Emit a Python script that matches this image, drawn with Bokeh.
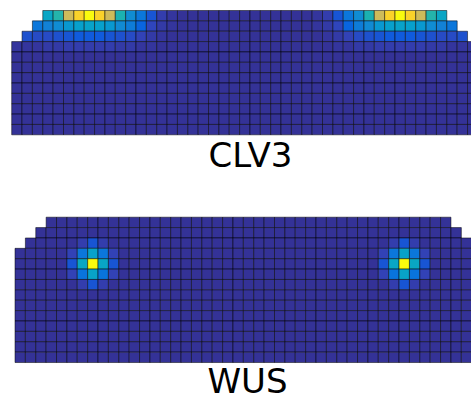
import numpy as np
from bokeh.plotting import figure
from bokeh.layouts import column
from bokeh.models import ColumnDataSource, Range1d, LinearColorMapper
from bokeh.core.properties import value
from bokeh.embed import file_html
from bokeh.resources import INLINE

# ---------------------------------------------------------------------------
# Tissue layout: 45 cell columns, L1 layer on top, dome-shaped shoulders
# ---------------------------------------------------------------------------
N_COLS = 45

# CLV3 field: 12 cell rows
clv3_first_col = [3, 2, 1] + [0] * 9
clv3_last_col = [41, 42, 43] + [44] * 9
clv3_background = 0.02
clv3_row0 = [0.38, 0.47, 0.74, 0.90, 1.00, 0.90, 0.74, 0.45, 0.28, 0.20, 0.10, 0.05, 0.03,
             0.02, 0.02, 0.02, 0.02, 0.02, 0.02, 0.02, 0.02, 0.02, 0.02, 0.02, 0.02, 0.02,
             0.03, 0.05, 0.10, 0.20, 0.28, 0.45, 0.74, 0.90, 1.00, 0.90, 0.74, 0.47, 0.38]
clv3_row1 = [0.20, 0.24, 0.28, 0.32, 0.35, 0.36, 0.35, 0.32, 0.27, 0.22, 0.14, 0.07, 0.04, 0.03,
             0.02, 0.02, 0.02, 0.02, 0.02, 0.02, 0.02, 0.02, 0.02, 0.02, 0.02, 0.02, 0.02,
             0.03, 0.04, 0.07, 0.14, 0.22, 0.27, 0.32, 0.35, 0.36, 0.35, 0.32, 0.28, 0.24, 0.20]
clv3_row2 = [0.09, 0.08, 0.08, 0.09, 0.10, 0.11, 0.11, 0.11, 0.10, 0.09, 0.08, 0.06, 0.04, 0.03, 0.02,
             0.02, 0.02, 0.02, 0.02, 0.02, 0.02, 0.02, 0.02, 0.02, 0.02, 0.02, 0.02, 0.02,
             0.02, 0.03, 0.04, 0.06, 0.08, 0.09, 0.10, 0.11, 0.11, 0.11, 0.10, 0.09, 0.08, 0.08, 0.09]
clv3_row3 = [0.03, 0.03, 0.03, 0.04, 0.04, 0.05, 0.05, 0.05, 0.05, 0.05, 0.04, 0.04, 0.03, 0.03, 0.02,
             0.02, 0.02, 0.02, 0.02, 0.02, 0.02, 0.02, 0.02, 0.02, 0.02, 0.02, 0.02, 0.02, 0.02, 0.02,
             0.02, 0.03, 0.03, 0.04, 0.04, 0.05, 0.05, 0.05, 0.05, 0.05, 0.04, 0.04, 0.03, 0.03, 0.03]
clv3_profiles = {0: clv3_row0, 1: clv3_row1, 2: clv3_row2, 3: clv3_row3}

# WUS field: 14 cell rows, two organising-centre foci
wus_first_col = [3, 2, 1] + [0] * 11
wus_last_col = [41, 42, 43] + [44] * 11
wus_background = 0.02
# (row, column, level)
wus_spots = [
    (4, 7, 1.00), (3, 7, 0.36), (5, 7, 0.37), (4, 6, 0.39), (4, 8, 0.38),
    (3, 6, 0.20), (3, 8, 0.20), (5, 6, 0.19), (5, 8, 0.19),
    (2, 7, 0.10), (6, 7, 0.10), (4, 5, 0.10), (4, 9, 0.10),
    (2, 6, 0.05), (2, 8, 0.05), (6, 6, 0.05), (6, 8, 0.05),
    (3, 5, 0.06), (3, 9, 0.06), (5, 5, 0.06), (5, 9, 0.06),
    (4, 37, 1.00), (3, 37, 0.36), (5, 37, 0.37), (4, 36, 0.38), (4, 38, 0.39),
    (3, 36, 0.20), (3, 38, 0.20), (5, 36, 0.19), (5, 38, 0.19),
    (2, 37, 0.10), (6, 37, 0.10), (4, 35, 0.10), (4, 39, 0.10),
    (2, 36, 0.05), (2, 38, 0.05), (6, 36, 0.05), (6, 38, 0.05),
    (3, 35, 0.06), (3, 39, 0.06), (5, 35, 0.06), (5, 39, 0.06),
]

# ---------------------------------------------------------------------------
# Parula-like palette
# ---------------------------------------------------------------------------
parula_anchors = [
    (0.000, (0.2081, 0.1663, 0.5292)),
    (0.063, (0.1959, 0.2645, 0.7279)),
    (0.111, (0.0591, 0.3598, 0.8683)),
    (0.159, (0.0165, 0.4266, 0.8786)),
    (0.254, (0.0793, 0.5200, 0.8312)),
    (0.333, (0.0265, 0.6137, 0.8135)),
    (0.413, (0.0384, 0.6743, 0.7436)),
    (0.492, (0.1801, 0.7177, 0.6424)),
    (0.571, (0.3953, 0.7459, 0.5244)),
    (0.651, (0.6099, 0.7473, 0.4337)),
    (0.730, (0.7858, 0.7356, 0.3633)),
    (0.810, (0.9450, 0.7261, 0.2886)),
    (0.857, (0.9990, 0.7653, 0.2164)),
    (0.905, (0.9789, 0.8271, 0.1633)),
    (0.952, (0.9589, 0.8949, 0.1132)),
    (1.000, (0.9763, 0.9831, 0.0538)),
]
_pos = np.array([a[0] for a in parula_anchors])
_rgb = np.array([a[1] for a in parula_anchors])
_t = np.linspace(0, 1, 256)
palette = []
for t in _t:
    r, g, b = (np.interp(t, _pos, _rgb[:, k]) for k in range(3))
    palette.append("#%02x%02x%02x" % (int(round(r * 255)), int(round(g * 255)), int(round(b * 255))))
mapper = LinearColorMapper(palette=palette, low=0.0, high=1.0)


def build_cells(first_cols, last_cols, background, profiles=None, spots=None):
    lut = {}
    if spots:
        for r, c, v in spots:
            lut[(r, c)] = v
    left, right, top, bottom, vals = [], [], [], [], []
    for r, (c0, c1) in enumerate(zip(first_cols, last_cols)):
        for c in range(c0, c1 + 1):
            if profiles and r in profiles:
                v = profiles[r][c - c0]
            else:
                v = lut.get((r, c), background)
            left.append(c)
            right.append(c + 1)
            top.append(r)
            bottom.append(r + 1)
            vals.append(v)
    return ColumnDataSource(dict(left=left, right=right, top=top, bottom=bottom, level=vals))


def panel(source, name, cell_px, left_px, top_px, label_px_x, label_px_y, height):
    """One tissue panel; geometry given in screen pixels of the panel."""
    width = 471
    x0 = -left_px / cell_px
    x1 = (width - left_px) / cell_px
    y_top = -top_px / cell_px
    y_bot = (height - top_px) / cell_px
    p = figure(width=width, height=height, output_backend="svg", toolbar_location=None,
               x_range=Range1d(x0, x1), y_range=Range1d(y_bot, y_top),
               min_border=0, outline_line_color=None, background_fill_color="white",
               border_fill_color="white")
    p.axis.visible = False
    p.grid.visible = False
    p.quad(left="left", right="right", top="top", bottom="bottom", source=source,
           fill_color={"field": "level", "transform": mapper},
           line_color="black", line_alpha=0.5, line_width=1)
    lx = (label_px_x - left_px) / cell_px
    ly = (label_px_y - top_px) / cell_px
    p.text(x=[lx], y=[ly], text=[name], text_align="center",
           text_baseline="middle", text_font=value("DejaVu Sans"),
           text_font_size="34px", text_color="black")
    return p


clv3_src = build_cells(clv3_first_col, clv3_last_col, clv3_background, profiles=clv3_profiles)
wus_src = build_cells(wus_first_col, wus_last_col, wus_background, spots=wus_spots)

p1 = panel(clv3_src, "CLV3", 10.36, 11.2, 10.0, 250.0, 154.0, 200)
p2 = panel(wus_src, "WUS", 10.38, 14.5, 16.7, 247.0, 180.5, 200)

layout = column(p1, p2, spacing=0)
open("out.html", "w").write(file_html(layout, INLINE))
